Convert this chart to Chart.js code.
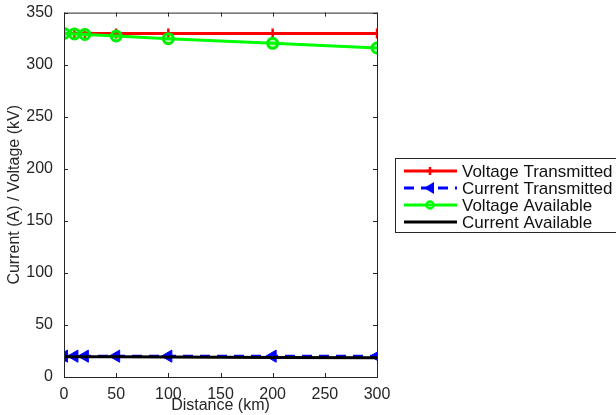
<!DOCTYPE html>
<html>
<head>
<meta charset="utf-8">
<script src="https://cdn.jsdelivr.net/npm/chart.js@4"></script>
<style>
  body { margin: 0; background: #fff; }
  #wrap { width: 616px; height: 415px; }
</style>
</head>
<body>
<div id="wrap"><canvas id="chart" width="616" height="415"></canvas></div>
<script>
const distance = [0, 10, 20, 50, 100, 200, 300];
const voltageTransmitted = [330, 330, 330, 330, 330, 330, 330];
const currentTransmitted = [20, 20, 20, 20, 20, 20, 20];
const voltageAvailable = [330, 329.5, 329, 327.5, 325, 320.5, 316];
const currentAvailable = [19.5, 19.5, 19.5, 19.4, 19.2, 18.8, 18.5];
const legendLabels = ["Voltage Transmitted", "Current Transmitted", "Voltage Available", "Current Available"];

const toPoints = (ys) => distance.map((x, i) => ({ x: x, y: ys[i] }));
const FONT = "'Liberation Sans', Arial, sans-serif";

// box round the plot + inward ticks, matlab style
const boxPlugin = {
  id: "box",
  afterDraw(chart) {
    const { ctx, chartArea: a, scales } = chart;
    ctx.save();
    ctx.strokeStyle = "#262626";
    ctx.lineWidth = 1;
    ctx.strokeRect(a.left + 0.5, a.top + 0.5, a.right - a.left, a.bottom - a.top);
    ctx.beginPath();
    scales.x.ticks.forEach((t) => {
      const px = Math.round(scales.x.getPixelForValue(t.value)) + 0.5;
      ctx.moveTo(px, a.bottom); ctx.lineTo(px, a.bottom - 4);
      ctx.moveTo(px, a.top); ctx.lineTo(px, a.top + 4);
    });
    scales.y.ticks.forEach((t) => {
      const py = Math.round(scales.y.getPixelForValue(t.value)) + 0.5;
      ctx.moveTo(a.left, py); ctx.lineTo(a.left + 4, py);
      ctx.moveTo(a.right, py); ctx.lineTo(a.right - 4, py);
    });
    ctx.stroke();

    // legend
    const lx = a.right + 18, ly = 158, lw = 240, lh = 74;
    ctx.fillStyle = "#fff";
    ctx.fillRect(lx, ly, lw, lh);
    ctx.strokeStyle = "#262626";
    ctx.strokeRect(lx + 0.5, ly + 0.5, lw, lh);
    ctx.font = "17px " + FONT;
    ctx.textBaseline = "middle";
    chart.data.datasets.forEach((ds, i) => {
      const y = ly + 13 + i * 17;
      ctx.strokeStyle = ds.borderColor;
      ctx.lineWidth = 3;
      ctx.setLineDash(ds.borderDash || []);
      ctx.beginPath();
      ctx.moveTo(lx + 9, y); ctx.lineTo(lx + 62, y);
      ctx.stroke();
      ctx.setLineDash([]);
      const mx = lx + 35;
      if (ds.pointStyle === "cross") {
        ctx.lineWidth = 2.5;
        ctx.beginPath();
        ctx.moveTo(mx - 4, y); ctx.lineTo(mx + 4, y);
        ctx.moveTo(mx, y - 4); ctx.lineTo(mx, y + 4);
        ctx.stroke();
      } else if (ds.pointStyle === "triangle") {
        ctx.fillStyle = ds.pointBackgroundColor;
        ctx.beginPath();
        ctx.moveTo(mx - 6, y); ctx.lineTo(mx + 4, y - 6); ctx.lineTo(mx + 4, y + 6);
        ctx.closePath();
        ctx.fill();
      } else if (ds.pointStyle === "circle" && ds.pointRadius > 0) {
        ctx.lineWidth = 2.5;
        ctx.beginPath();
        ctx.arc(mx, y, 3.5, 0, Math.PI * 2);
        ctx.stroke();
      }
      ctx.fillStyle = "#111";
      ctx.fillText(legendLabels[i], lx + 67, y + 1);
    });
    ctx.restore();
  },
};

new Chart(document.getElementById("chart"), {
  type: "line",
  data: {
    datasets: [
      {
        label: legendLabels[0],
        data: toPoints(voltageTransmitted),
        borderColor: "#ff0000",
        borderWidth: 3,
        pointStyle: "cross",
        pointRadius: 5,
        pointBorderWidth: 2.5,
        pointBorderColor: "#ff0000",
        order: 4,
      },
      {
        label: legendLabels[1],
        data: toPoints(currentTransmitted),
        borderColor: "#0000ff",
        borderWidth: 3,
        borderDash: [10, 7],
        pointStyle: "triangle",
        pointRotation: -90,
        pointRadius: 7,
        pointBorderWidth: 1,
        pointBorderColor: "#0000ff",
        pointBackgroundColor: "#0000ff",
        order: 3,
      },
      {
        label: legendLabels[2],
        data: toPoints(voltageAvailable),
        borderColor: "#00ff00",
        borderWidth: 3,
        pointStyle: "circle",
        pointRadius: 5,
        pointBorderWidth: 3,
        pointBorderColor: "#00ee00",
        pointBackgroundColor: "rgba(0,255,0,0.3)",
        order: 2,
      },
      {
        label: legendLabels[3],
        data: toPoints(currentAvailable),
        borderColor: "#000000",
        borderWidth: 3,
        pointRadius: 0,
        order: 1,
      },
    ],
  },
  options: {
    responsive: false,
    animation: false,
    layout: { padding: { left: 0, top: 12, right: 239, bottom: 0 } },
    plugins: { legend: { display: false }, tooltip: { enabled: false } },
    scales: {
      x: {
        type: "linear",
        min: 0,
        max: 300,
        afterFit: (s) => { s.height = 38; },
        ticks: { stepSize: 50, color: "#262626", padding: 0, maxRotation: 0, font: { family: FONT, size: 16 } },
        grid: { display: false },
        border: { display: false },
        title: { display: true, text: "Distance (km)", color: "#262626", padding: 0, font: { family: FONT, size: 16 } },
      },
      y: {
        min: 0,
        max: 350,
        afterFit: (s) => { s.width = 64; },
        ticks: { stepSize: 50, color: "#262626", padding: 3, font: { family: FONT, size: 16 } },
        grid: { display: false },
        border: { display: false },
        title: { display: true, text: "Current (A) / Voltage (kV)", color: "#262626", padding: { top: 5, bottom: 0 }, font: { family: FONT, size: 16 } },
      },
    },
  },
  plugins: [boxPlugin],
});
</script>
</body>
</html>
